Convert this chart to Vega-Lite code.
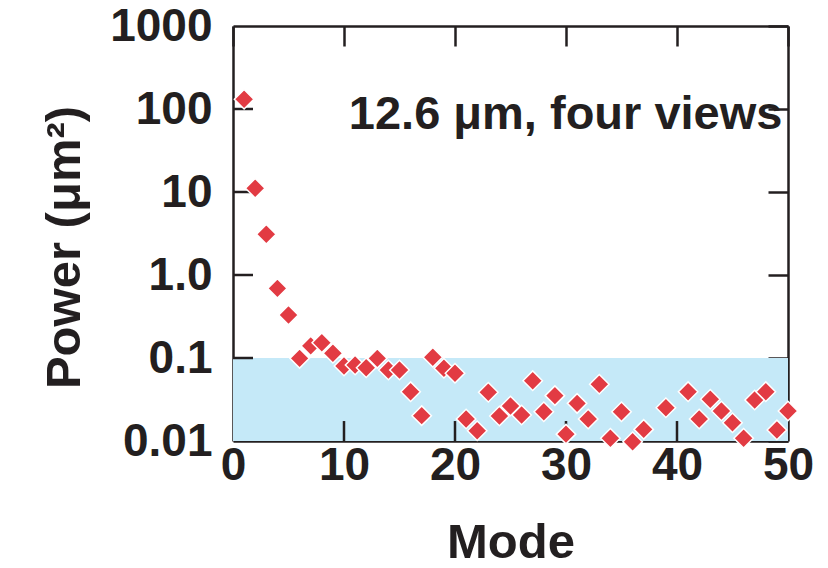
{
  "$schema": "https://vega.github.io/schema/vega-lite/v6.json",
  "width": 555,
  "height": 415,
  "autosize": "none",
  "padding": {"left": 233, "top": 26, "right": 40, "bottom": 127},
  "background": "white",
  "config": {
    "view": {"stroke": null},
    "font": "Liberation Sans",
    "axis": {
      "grid": false,
      "domainColor": "#231f20",
      "domainWidth": 2.5,
      "tickColor": "#231f20",
      "tickWidth": 2.5,
      "labelFont": "Liberation Sans",
      "labelFontSize": 46,
      "labelFontWeight": "bold",
      "labelColor": "#231f20",
      "titleFont": "Liberation Sans",
      "titleFontSize": 49,
      "titleFontWeight": "bold",
      "titleColor": "#231f20",
      "zindex": 1
    }
  },
  "layer": [
    {
      "data": {"values": [{"x0": 0, "x1": 50, "lo": 0.01, "hi": 0.1}]},
      "mark": {"type": "rect", "color": "#c5e9f8"},
      "encoding": {
        "x": {
          "field": "x0", "type": "quantitative",
          "scale": {"domain": [0, 50], "nice": false, "zero": false},
          "axis": {"orient": "top", "values": [0, 10, 20, 30, 40, 50], "ticks": true, "tickSize": -20, "labels": false, "title": null}
        },
        "x2": {"field": "x1"},
        "y": {
          "field": "lo", "type": "quantitative",
          "scale": {"type": "log", "domain": [0.01, 1000], "nice": false},
          "axis": {"orient": "right", "values": [0.01, 0.1, 1, 10, 100, 1000], "ticks": true, "tickSize": -20, "labels": false, "title": null}
        },
        "y2": {"field": "hi"}
      }
    },
    {
      "data": {"values": [{"v": 0.1}, {"v": 1}, {"v": 10}, {"v": 100}]},
      "mark": {"type": "rule", "color": "#231f20", "strokeWidth": 2.5},
      "encoding": {
        "y": {"field": "v", "type": "quantitative", "axis": null},
        "x": {"datum": 0, "type": "quantitative", "axis": null},
        "x2": {"datum": 1.8}
      }
    },
    {
      "data": {"values": [{"m": 10}, {"m": 20}, {"m": 30}, {"m": 40}]},
      "mark": {"type": "rule", "color": "#231f20", "strokeWidth": 2.5},
      "encoding": {
        "x": {"field": "m", "type": "quantitative", "axis": null},
        "y": {"datum": 0.01, "type": "quantitative", "axis": null},
        "y2": {"datum": 0.0174}
      }
    },
    {
      "data": {"values": [
        {"mode": 1, "power": 131},
        {"mode": 2, "power": 11.1},
        {"mode": 3, "power": 3.09},
        {"mode": 4, "power": 0.69},
        {"mode": 5, "power": 0.33},
        {"mode": 6, "power": 0.099},
        {"mode": 7, "power": 0.14},
        {"mode": 8, "power": 0.153},
        {"mode": 9, "power": 0.114},
        {"mode": 10, "power": 0.08},
        {"mode": 11, "power": 0.0824},
        {"mode": 12, "power": 0.0764},
        {"mode": 13, "power": 0.099},
        {"mode": 14, "power": 0.0716},
        {"mode": 15, "power": 0.0716},
        {"mode": 16, "power": 0.0393},
        {"mode": 17, "power": 0.0202},
        {"mode": 18, "power": 0.102},
        {"mode": 19, "power": 0.0752},
        {"mode": 20, "power": 0.0655},
        {"mode": 21, "power": 0.0184},
        {"mode": 22, "power": 0.0133},
        {"mode": 23, "power": 0.0386},
        {"mode": 24, "power": 0.02},
        {"mode": 25, "power": 0.0264},
        {"mode": 26, "power": 0.0206},
        {"mode": 27, "power": 0.0533},
        {"mode": 28, "power": 0.0225},
        {"mode": 29, "power": 0.0352},
        {"mode": 30, "power": 0.0121},
        {"mode": 31, "power": 0.0284},
        {"mode": 32, "power": 0.0184},
        {"mode": 33, "power": 0.0482},
        {"mode": 34, "power": 0.0108},
        {"mode": 35, "power": 0.0225},
        {"mode": 36, "power": 0.0098},
        {"mode": 37, "power": 0.0138},
        {"mode": 39, "power": 0.0252},
        {"mode": 41, "power": 0.0393},
        {"mode": 42, "power": 0.0184},
        {"mode": 43, "power": 0.0318},
        {"mode": 44, "power": 0.023},
        {"mode": 45, "power": 0.0166},
        {"mode": 46, "power": 0.0108},
        {"mode": 47, "power": 0.0312},
        {"mode": 48, "power": 0.0393},
        {"mode": 49, "power": 0.0136},
        {"mode": 50, "power": 0.023}
      ]},
      "mark": {"type": "point", "shape": "diamond", "filled": true, "size": 380, "fill": "#e23b43", "stroke": "white", "strokeWidth": 1.5, "opacity": 1},
      "encoding": {
        "x": {"field": "mode", "type": "quantitative", "axis": {"orient": "bottom", "values": [0, 10, 20, 30, 40, 50], "ticks": false, "labelPadding": 2, "title": "Mode", "titlePadding": 30, "labelFlush": false}},
        "y": {"field": "power", "type": "quantitative", "axis": {"orient": "left", "values": [0.01, 0.1, 1, 10, 100, 1000], "ticks": false, "labelPadding": 21, "labelExpr": "datum.value == 1 ? '1.0' : datum.value < 0.05 ? '0.01' : datum.value < 0.5 ? '0.1' : format(datum.value, 'd')", "title": "Power (μm²)", "titlePadding": 20, "titleY": 221, "labelFlush": false}}
      }
    },
    {
      "data": {"values": [{"mode": 49.5, "power": 58, "label": "12.6 μm, four views"}]},
      "mark": {"type": "text", "align": "right", "baseline": "alphabetic", "fontSize": 47, "fontWeight": "bold", "font": "Liberation Sans", "color": "#231f20"},
      "encoding": {
        "x": {"field": "mode", "type": "quantitative", "axis": null},
        "y": {"field": "power", "type": "quantitative", "axis": null},
        "text": {"field": "label"}
      }
    }
  ],
  "resolve": {"axis": {"x": "independent", "y": "independent"}}
}
